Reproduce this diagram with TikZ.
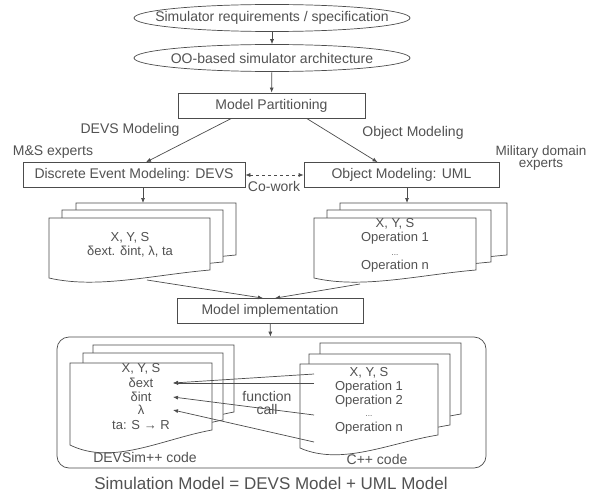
\documentclass[tikz,border=0pt]{standalone}
\usepackage{fontspec}
\setmainfont{Liberation Sans}
\usetikzlibrary{shapes.geometric,arrows.meta}

\definecolor{inkgray}{gray}{0.3}
\definecolor{txtgray}{gray}{0.32}

% one paper sheet: left, top, right, bottom at left edge, rise of the right end
\newcommand{\docsheet}[5]{%
  \filldraw[fill=white, draw=inkgray, line width=0.7pt]
    (#1,#4) -- (#1,#2) -- (#3,#2) -- (#3,{#4-#5})
    .. controls ({#1+0.65*(#3-#1)},{#4-0.4*#5}) and ({#1+0.3*(#3-#1)},{#4+1.4*#5}) .. (#1,#4) -- cycle;
}

\tikzset{
  flow/.style={draw=inkgray, line width=0.7pt, -{Latex[length=5pt,width=4pt]}},
  procbox/.style={draw=inkgray, line width=0.7pt, fill=white, minimum height=25pt, inner sep=0pt},
  specell/.style={ellipse, draw=inkgray, line width=0.7pt, minimum width=276pt, minimum height=27pt, inner xsep=-21pt, inner ysep=0pt},
  doctext/.style={inner sep=0pt, align=center, font=\fontsize{13}{14}\selectfont}
}

\begin{document}
\begin{tikzpicture}[x=1pt, y=-1pt, font=\fontsize{14}{15}\selectfont, text=txtgray]
    \useasboundingbox[fill=white] (0,0) rectangle (593,492);

    % Top of the flow
    \node[specell] (req) at (272,18) {Simulator requirements / specification};
    \node[specell] (arch) at (272,58) {OO-based simulator architecture};
    \node[procbox, minimum width=187pt] (part) at (271.5,105.5) {Model Partitioning};

    \draw[flow] (req) -- (arch);
    \draw[flow] (arch) -- (part);

    % Two modeling branches
    \node[procbox, minimum width=222pt] (devs) at (134,175) {Discrete Event Modeling: DEVS};
    \node[procbox, minimum width=195pt] (uml) at (401.5,175) {Object Modeling: UML};

    \node (devslbl) at (130,130) {DEVS Modeling};
    \node (umllbl) at (413,133) {Object Modeling};
    \node (msexp) at (53,152) {M\&S experts};
    \node[align=center, font=\fontsize{13.5}{12}\selectfont] (milexp) at (541,158) {Military domain\\experts};
    \node (cowork) at (274,186) {Co-work};

    \draw[flow] ([xshift=-40pt]part.south) -- ([xshift=12pt]devs.north);
    \draw[flow] ([xshift=35pt]part.south) -- ([xshift=-24pt]uml.north);
    \draw[flow, dashed, {Latex[length=5pt,width=4pt]}-{Latex[length=5pt,width=4pt]}] (devs.east) -- (uml.west);

    % Model documents
    \docsheet{76}{203}{236}{263}{8}
    \docsheet{62}{210}{223}{270}{8}
    \docsheet{49}{218}{210}{278}{8}
    \docsheet{340}{203}{507}{263}{8}
    \docsheet{327}{210}{491}{270}{8}
    \docsheet{314}{218}{476}{278}{8}

    \node[doctext] (devsdoc) at (130,244.5) {X, Y, S\\δext. δint, λ, ta};
    \node[doctext] (umldoc) at (395,245) {X, Y, S\\Operation 1\\{\footnotesize ...}\\Operation n};

    \coordinate (dtop) at (143,203);
    \coordinate (utop) at (407,203);
    \coordinate (dbot) at (147,280);
    \coordinate (ubot) at (360,284);
    \draw[flow] (devs.south -| dtop) -- (dtop);
    \draw[flow] (uml.south -| utop) -- (utop);

    % Implementation
    \node[procbox, minimum width=186pt] (impl) at (270,311) {Model implementation};
    \draw[flow] (dbot) -- ([xshift=-7pt]impl.north);
    \draw[flow] (ubot) -- ([xshift=5pt]impl.north);

    \node[draw=inkgray, line width=0.7pt, rounded corners=12pt, minimum width=429pt, minimum height=131pt, inner sep=0pt] (simbox) at (271.5,402.5) {};
    \draw[flow] (impl) -- (simbox);

    % Code sheets inside the simulation model
    \docsheet{93}{345}{234}{427}{15}
    \docsheet{83}{353}{223}{435}{15}
    \docsheet{70}{363}{212}{445}{15}
    \docsheet{320}{343}{461}{427}{13}
    \docsheet{309}{354}{450}{438}{13}
    \docsheet{300}{364}{438}{448}{13}

    \node[doctext] (xysL) at (141,369) {X, Y, S};
    \node[doctext] (ext) at (141,383) {δext};
    \node[doctext] (int) at (141,397) {δint};
    \node[doctext] (lam) at (141,410) {λ};
    \node[doctext] (taL) at (141,425) {ta: S → R};
    \node (devscode) at (145,457) {DEVSim++ code};

    \node[doctext] (xysR) at (369,373) {X, Y, S};
    \node[doctext] (op1) at (369,387) {Operation 1};
    \node[doctext] (op2) at (369,401) {Operation 2};
    \node[doctext, font=\footnotesize] (dotsR) at (369,416) {...};
    \node[doctext] (opn) at (369,428) {Operation n};
    \node (cppcode) at (377,459) {C++ code};

    \node (fun) at (267,396) {function};
    \node (call) at (267,409) {call};

    % function call links
    \coordinate (tipcol) at (173,0);
    \coordinate (s1) at (314,374);
    \coordinate (s2) at (314,383);
    \coordinate (s3) at (314,415);
    \coordinate (s4) at (314,442);
    \draw[flow] (s1) -- (ext -| tipcol);
    \draw[flow] (s2) -- (ext -| tipcol);
    \draw[flow] (s3) -- (int -| tipcol);
    \draw[flow] (s4) -- (lam -| tipcol);

    \node[font=\fontsize{17}{19}\selectfont] (caption) at (271,483) {Simulation Model = DEVS Model + UML Model};

\end{tikzpicture}
\end{document}
